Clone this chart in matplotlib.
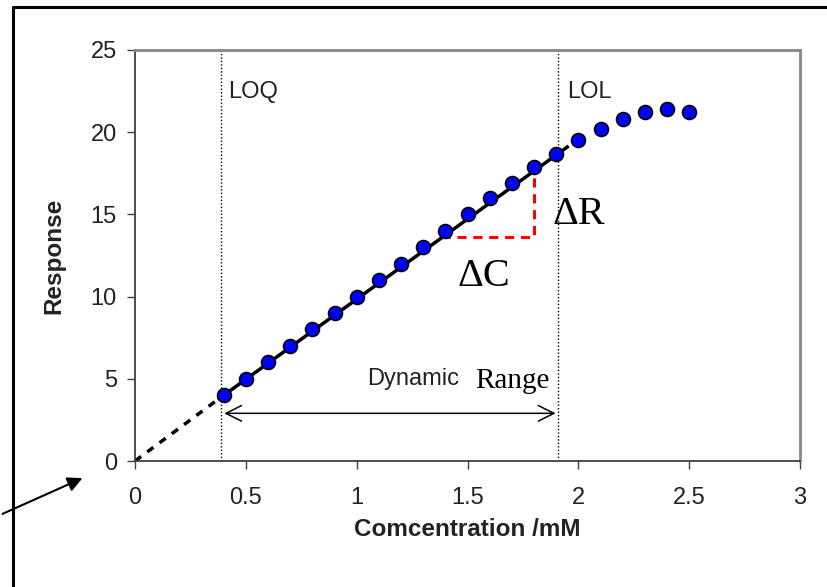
import matplotlib
matplotlib.use("Agg")
import matplotlib.pyplot as plt
from matplotlib.lines import Line2D

# datos de la curva de calibración
conc = [0.4, 0.5, 0.6, 0.7, 0.8, 0.9, 1.0, 1.1, 1.2, 1.3, 1.4, 1.5, 1.6, 1.7,
        1.8, 1.9, 2.0, 2.1, 2.2, 2.3, 2.4, 2.5]
resp = [4.0, 5.0, 6.0, 7.0, 8.0, 9.0, 10.0, 11.0, 12.0, 13.0, 14.0, 15.0, 16.0,
        16.9, 17.9, 18.7, 19.5, 20.2, 20.8, 21.2, 21.4, 21.2]
fit_solid_x = [0.38, 1.95]
fit_solid_y = [3.8, 19.1]
fit_dash_x = [0.0, 0.38]
fit_dash_y = [0.0, 3.8]
LOQ, LOL = 0.39, 1.91
xticks = [0, 0.5, 1, 1.5, 2, 2.5, 3]
xticklabels = ["0", "0.5", "1", "1.5", "2", "2.5", "3"]
yticks = [0, 5, 10, 15, 20, 25]

SANS = "Liberation Sans"
SERIF = "Liberation Serif"

W, H = 827, 587
fig = plt.figure(figsize=(W/100, H/100), dpi=100)
ax = fig.add_axes([135/W, 1-461/H, 665/W, 411/H])

ax.plot(fit_dash_x, fit_dash_y, color="black", lw=2.5, ls=(0, (2.2, 2.2)))
ax.plot(fit_solid_x, fit_solid_y, color="black", lw=2.5)
ax.plot(conc, resp, "o", ms=10, mfc="#0000FF", mec="black", mew=1.2, zorder=5)

for xv in (LOQ, LOL):
    ax.axvline(xv, color="black", lw=1, ls=(0, (1, 1.5)))
ax.text(0.42, 22.08, "LOQ", fontsize=17, color="#222222", family=SANS)
ax.text(1.95, 22.08, "LOL", fontsize=17, color="#222222", family=SANS)

# triángulo de pendiente
ax.plot([1.38, 1.8, 1.8], [13.6, 13.6, 17.9], color="red", lw=2.2, ls=(0, (3, 2.2)))
ax.text(1.885, 15.0, "ΔR", fontsize=29, family=SERIF, va="center")
ax.text(1.457, 11.2, "ΔC", fontsize=29, family=SERIF, va="center")

# rango dinámico
ax.annotate("", xy=(LOQ, 2.9), xytext=(LOL, 2.9),
            arrowprops=dict(arrowstyle="<->", color="black", lw=1.1,
                            mutation_scale=28))
ax.text(1.046, 4.62, "Dynamic", fontsize=17, color="#222222", family=SANS)
ax.text(1.534, 4.44, "Range", fontsize=21, family=SERIF)

ax.set_xlim(0, 3)
ax.set_ylim(0, 25)
ax.set_xticks(xticks)
ax.set_xticklabels(xticklabels)
ax.set_yticks(yticks)
ax.tick_params(direction="out", length=6, width=1, labelsize=17, pad=7,
               color="#404040")
ax.tick_params(axis="x", pad=13)
for lab in ax.get_xticklabels() + ax.get_yticklabels():
    lab.set_family(SANS)
    lab.set_color("#222222")
for s in ("left", "bottom"):
    ax.spines[s].set_color("#404040")
    ax.spines[s].set_linewidth(1.3)
for s in ("top", "right"):
    ax.spines[s].set_color("#888888")
    ax.spines[s].set_linewidth(2)
ax.set_xlabel("Comcentration /mM", fontsize=17.5, fontweight="bold",
              family=SANS, labelpad=6, color="#222222")
ax.set_ylabel("Response", fontsize=17.5, fontweight="bold",
              family=SANS, labelpad=18, color="#222222")

# marco exterior y flecha hacia el origen
fig.add_artist(Line2D([13/W, 13/W, 1.0], [0.0, 1-7/H, 1-7/H],
                      transform=fig.transFigure, color="black", lw=2.2))
fig.add_artist(plt.Annotation("", xy=(85/W, 1-477/H), xytext=(0, 1-515/H),
                              xycoords="figure fraction", textcoords="figure fraction",
                              arrowprops=dict(arrowstyle="-|>", color="black", lw=1.5,
                                              mutation_scale=22)))

fig.savefig("out.png", dpi=100)
